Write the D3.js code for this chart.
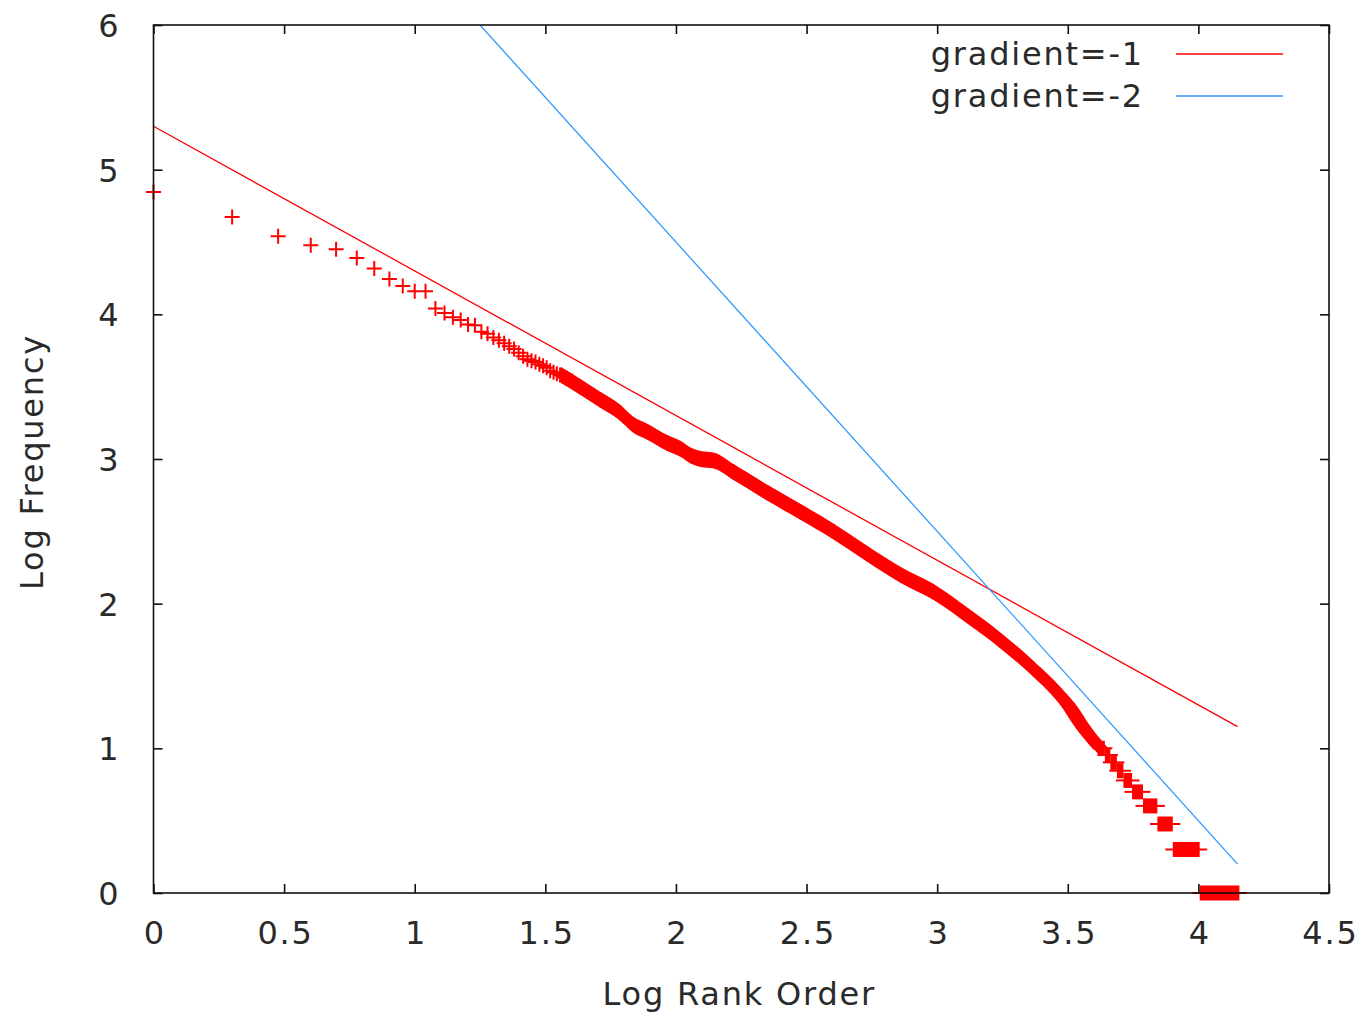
<!DOCTYPE html>
<html>
<head>
<meta charset="utf-8">
<script src="https://cdn.jsdelivr.net/npm/d3@7/dist/d3.min.js"></script>
<style>
  html, body { margin: 0; padding: 0; background: #fff; }
  svg { display: block; }
  text { font-family: "DejaVu Sans", sans-serif; fill: #2a2a2a; letter-spacing: 1.8px; }
</style>
</head>
<body>
<svg id="chart" width="1362" height="1017"></svg>
<script>
// ---- data ----
const xTicks = [0, 0.5, 1, 1.5, 2, 2.5, 3, 3.5, 4, 4.5];
const yTicks = [0, 1, 2, 3, 4, 5, 6];

// individually visible ranks (rank order, log10 frequency)
const sparseRanks = [1, 2, 3, 4, 5, 6, 7, 8, 9, 10, 11, 12, 13, 14, 15, 16, 17, 18, 19, 20,
                     21, 22, 23, 24, 25, 26, 27, 28, 29, 30, 31, 32, 33, 34, 35, 36, 37, 38, 39, 40];
const sparseLogFreq = [4.845, 4.673, 4.540, 4.478, 4.450, 4.390, 4.317, 4.245, 4.195, 4.160,
                       4.160, 4.040, 4.010, 3.980, 3.960, 3.930, 3.925, 3.880, 3.865, 3.840,
                       3.820, 3.800, 3.780, 3.760, 3.735, 3.710, 3.690, 3.680, 3.670, 3.655,
                       3.645, 3.630, 3.610, 3.600, 3.590, 3.580, 3.570, 3.560, 3.550, 3.540];

// dense part of the distribution (log rank, log frequency) where markers merge into a band
const denseLogRank = [1.560, 1.633, 1.710, 1.787, 1.837, 1.890, 1.967, 2.017, 2.060, 2.094,
                      2.144, 2.220, 2.350, 2.476, 2.603, 2.732, 2.859, 2.985, 3.115, 3.242,
                      3.368, 3.498, 3.560, 3.624];
const denseLogFreq = [3.580, 3.500, 3.410, 3.320, 3.236, 3.188, 3.110, 3.070, 3.020, 3.000,
                      2.990, 2.910, 2.766, 2.635, 2.499, 2.345, 2.200, 2.082, 1.918, 1.746,
                      1.550, 1.308, 1.142, 1.000];

// tail plateaus: words sharing the same small frequency (log freq, first/last log rank)
const tailLogFreq = [0.000, 0.301, 0.477, 0.602, 0.699, 0.778, 0.845, 0.903, 0.954, 1.000];
const tailStart   = [4.005, 3.902, 3.843, 3.788, 3.746, 3.713, 3.688, 3.663, 3.642, 3.624];
const tailEnd     = [4.157, 4.005, 3.902, 3.843, 3.788, 3.746, 3.713, 3.688, 3.663, 3.642];

// reference lines (end points)
const lineLabels = ["gradient=-1", "gradient=-2"];
const lineColors = ["#ff0000", "#3399ff"];
const lineX = [[0, 4.15], [1.25, 4.15]];
const lineY = [[5.3, 1.15], [6.0, 0.2]];

// ---- layout ----
const svg = d3.select("#chart");
const L = 153.5, R = 1329, T = 25, B = 893;
const x = d3.scaleLinear().domain([0, 4.5]).range([L, R]);
const y = d3.scaleLinear().domain([0, 6]).range([B, T]);
const markerHalf = 7.5;
const bandHalf = 8;
const red = "#ff0000";

svg.append("defs").append("clipPath").attr("id", "plotclip")
  .append("rect").attr("x", L).attr("y", T).attr("width", R - L).attr("height", B - T + 10);

// ---- data marks ----
const gData = svg.append("g");

// dense band (union of overlapping plus markers: vertical arms + horizontal arms)
const densePts = denseLogRank.map((r, i) => [r, denseLogFreq[i]]);
gData.append("path")
  .datum(densePts)
  .attr("fill", red)
  .attr("d", d3.area()
    .x(d => x(d[0]))
    .y0(d => y(d[1]) - bandHalf)
    .y1(d => y(d[1]) + bandHalf)
    .curve(d3.curveMonotoneX));
gData.append("path")
  .datum(densePts)
  .attr("fill", red)
  .attr("d", d3.area()
    .y(d => y(d[1]))
    .x0(d => x(d[0]) - bandHalf)
    .x1(d => x(d[0]) + bandHalf)
    .curve(d3.curveMonotoneY));

function plus(px, py) {
  return `M${px - markerHalf},${py}H${px + markerHalf}M${px},${py - markerHalf}V${py + markerHalf}`;
}

// plus markers
let dMarks = "";
sparseRanks.forEach((r, i) => { dMarks += plus(x(Math.log10(r)), y(sparseLogFreq[i])); });
densePts.forEach(d => { dMarks += plus(x(d[0]), y(d[1])); });
gData.append("path").attr("d", dMarks).attr("stroke", red).attr("stroke-width", 2).attr("fill", "none");

// tail plateaus
tailLogFreq.forEach((f, i) => {
  const x0 = x(tailStart[i]), x1 = x(tailEnd[i]), yy = y(f);
  gData.append("rect").attr("x", x0).attr("y", yy - markerHalf)
    .attr("width", x1 - x0).attr("height", 2 * markerHalf).attr("fill", red);
  gData.append("line").attr("x1", x0 - markerHalf).attr("x2", x1 + markerHalf)
    .attr("y1", yy).attr("y2", yy).attr("stroke", red).attr("stroke-width", 2);
});

// ---- reference lines ----
const gLines = svg.append("g").attr("clip-path", "url(#plotclip)");
lineX.forEach((xs, i) => {
  const pts = xs.map((v, j) => [v, lineY[i][j]]);
  gLines.append("path").datum(pts)
    .attr("d", d3.line().x(d => x(d[0])).y(d => y(d[1])))
    .attr("stroke", lineColors[i]).attr("stroke-width", 1.3).attr("fill", "none");
});

// ---- frame and ticks ----
const gAxes = svg.append("g");
const tickLen = 9;
gAxes.append("rect").attr("x", L).attr("y", T).attr("width", R - L).attr("height", B - T)
  .attr("fill", "none").attr("stroke", "#111").attr("stroke-width", 1.6);

const axB = d3.axisBottom(x).tickValues(xTicks).tickSize(-tickLen).tickPadding(28).tickFormat(d3.format("~g"));
const axT = d3.axisTop(x).tickValues(xTicks).tickSize(-tickLen).tickFormat("");
const axL = d3.axisLeft(y).tickValues(yTicks).tickSize(-tickLen).tickPadding(33).tickFormat(d3.format("d"));
const axR = d3.axisRight(y).tickValues(yTicks).tickSize(-tickLen).tickFormat("");

function styleAxis(g) {
  g.select(".domain").remove();
  g.selectAll(".tick line").attr("stroke", "#111").attr("stroke-width", 1.6);
  g.selectAll(".tick text").style("font-family", '"DejaVu Sans", sans-serif')
    .style("font-size", "32px").attr("fill", "#2a2a2a");
}
gAxes.append("g").attr("transform", `translate(0,${B})`).call(axB).call(styleAxis)
  .selectAll(".tick text").attr("dx", "0.9px");
gAxes.append("g").attr("transform", `translate(0,${T})`).call(axT).call(styleAxis);
gAxes.append("g").attr("transform", `translate(${L},0)`).call(axL).call(styleAxis)
  .selectAll(".tick text").attr("dy", "0.36em");
gAxes.append("g").attr("transform", `translate(${R},0)`).call(axR).call(styleAxis);

// ---- axis titles ----
svg.append("text").attr("x", (L + R) / 2 - 2).attr("y", 1005)
  .attr("text-anchor", "middle").style("font-size", "32px").text("Log Rank Order");
svg.append("text").attr("transform", `translate(43,${(T + B) / 2 + 3}) rotate(-90)`)
  .attr("text-anchor", "middle").style("font-size", "32px").text("Log Frequency");

// ---- legend ----
const gLeg = svg.append("g");
lineLabels.forEach((lab, i) => {
  const yy = 54 + i * 42;
  gLeg.append("text").attr("x", 1144).attr("y", yy + 11).attr("text-anchor", "end")
    .style("font-size", "32px").text(lab);
  gLeg.append("line").attr("x1", 1176).attr("x2", 1283).attr("y1", yy).attr("y2", yy)
    .attr("stroke", lineColors[i]).attr("stroke-width", 1.6);
});
</script>
</body>
</html>
